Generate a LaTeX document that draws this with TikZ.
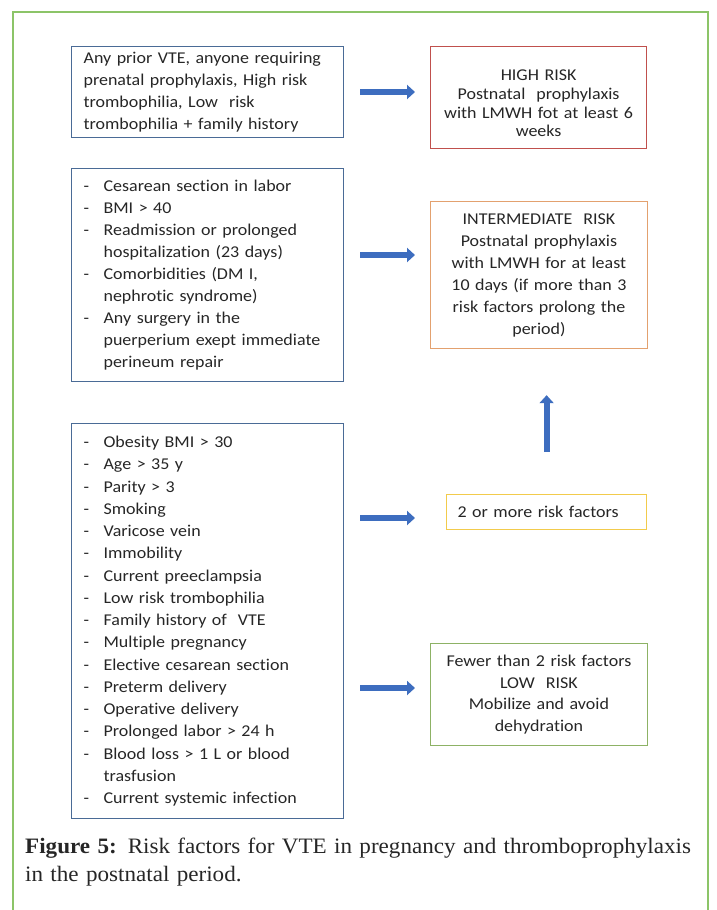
\documentclass[tikz,border=0pt]{standalone}
\usepackage{fontspec}
\setmainfont[FakeStretch=1.05]{Liberation Serif}
\newfontfamily\boxfont[FakeStretch=1.09,Ligatures=NoCommon]{Carlito}
\usetikzlibrary{arrows.meta}
\definecolor{frameg}{HTML}{8CC468}
\definecolor{boxblue}{HTML}{4A6B96}
\definecolor{boxred}{HTML}{C0504D}
\definecolor{boxorange}{HTML}{E3A16F}
\definecolor{boxyellow}{HTML}{F2CB4C}
\definecolor{boxgreen}{HTML}{8DB265}
\definecolor{arrowblue}{HTML}{3D6DBF}
\definecolor{txt}{HTML}{262626}
\newcommand{\dd}{\makebox[20pt][l]{-}}
\begin{document}
\begin{tikzpicture}[x=1pt,y=-1pt,
  box/.style={draw, line width=1.2pt, anchor=north west, inner ysep=0pt, text=txt,
    font=\boxfont\fontsize{16.5}{22}\selectfont},
  leftbox/.style={box, draw=boxblue, inner xsep=12pt, align=left},
  bigarrow/.style={draw=arrowblue, line width=6pt, -{Triangle[width=14pt,length=8pt]}},
]
\useasboundingbox (0,0) rectangle (716,910);
\draw[frameg, line width=1.5pt] (13,910) -- (13,12) -- (708,12) -- (708,910);

\node[leftbox, minimum width=272pt, minimum height=91pt, text width=248pt] (A) at (71,46)
  {Any prior VTE, anyone requiring\\prenatal prophylaxis, High risk\\trombophilia, Low\ \ risk\\trombophilia + family history};

\node[leftbox, minimum width=272pt, minimum height=213pt, text width=248pt] (B) at (71,168)
  {\begin{tabular}{@{}l@{}l@{}}
  \dd & Cesarean section in labor\\
  \dd & BMI > 40\\
  \dd & Readmission or prolonged\\
      & hospitalization (23 days)\\
  \dd & Comorbidities (DM I,\\
      & nephrotic syndrome)\\
  \dd & Any surgery in the\\
      & puerperium exept immediate\\
      & perineum repair
  \end{tabular}};

\node[leftbox, minimum width=272pt, minimum height=395pt, text width=248pt,
  font=\boxfont\fontsize{16.5}{22.25}\selectfont] (C) at (71,423)
  {\begin{tabular}{@{}l@{}l@{}}
  \dd & Obesity BMI > 30\\
  \dd & Age > 35 y\\
  \dd & Parity > 3\\
  \dd & Smoking\\
  \dd & Varicose vein\\
  \dd & Immobility\\
  \dd & Current preeclampsia\\
  \dd & Low risk trombophilia\\
  \dd & Family history of\ \ VTE\\
  \dd & Multiple pregnancy\\
  \dd & Elective cesarean section\\
  \dd & Preterm delivery\\
  \dd & Operative delivery\\
  \dd & Prolonged labor > 24\ h\\
  \dd & Blood loss > 1 L or blood\\
      & trasfusion\\
  \dd & Current systemic infection
  \end{tabular}};

\node[box, draw=boxred, minimum width=216pt, minimum height=102pt] (H) at (430,46) {};
\node[text=txt, inner sep=0pt, text width=210pt, align=center,
  font=\boxfont\fontsize{16.5}{18.7}\selectfont] (Ht) at ([yshift=-6pt]H.center)
  {HIGH RISK\\Postnatal\ \ prophylaxis\\with LMWH fot at least 6\\weeks};

\node[box, draw=boxorange, minimum width=216pt, minimum height=147pt, text width=210pt, align=center] (I) at (430,201)
  {INTERMEDIATE\ \ RISK\\Postnatal prophylaxis\\with LMWH for at least\\10 days (if more than 3\\risk factors prolong the\\period)};

\node[box, draw=boxyellow, minimum width=200pt, minimum height=35pt, inner xsep=11pt, text width=178pt, align=left] (Y) at (446,494)
  {2 or more risk factors};

\node[box, draw=boxgreen, minimum width=216pt, minimum height=102pt, text width=210pt, align=center,
  font=\boxfont\fontsize{16.5}{21.8}\selectfont] (L) at (430,643)
  {Fewer than 2 risk factors\\LOW\ \ RISK\\Mobilize and avoid\\dehydration};

\draw[bigarrow, shorten <=16pt, shorten >=15pt] (A.east |- 0,92) -- (H.west |- 0,92);
\draw[bigarrow, shorten <=16pt, shorten >=15pt] (B.east |- 0,255) -- (I.west |- 0,255);
\draw[bigarrow, shorten <=16pt, shorten >=31pt] (C.east |- 0,518) -- (Y.west |- 0,518);
\draw[bigarrow, shorten <=16pt, shorten >=15pt] (C.east |- 0,688) -- (L.west |- 0,688);
\draw[bigarrow, shorten <=42pt, shorten >=46pt] (Y.north) -- (Y.north |- I.south);

\node[anchor=base west, inner sep=0pt, text width=690pt, align=left,
  font=\fontsize{22}{28}\selectfont, text=black!85] (cap) at (25,853)
  {\textbf{Figure 5:} Risk factors for VTE in pregnancy and thromboprophylaxis\\in the postnatal period.};
\end{tikzpicture}
\end{document}
